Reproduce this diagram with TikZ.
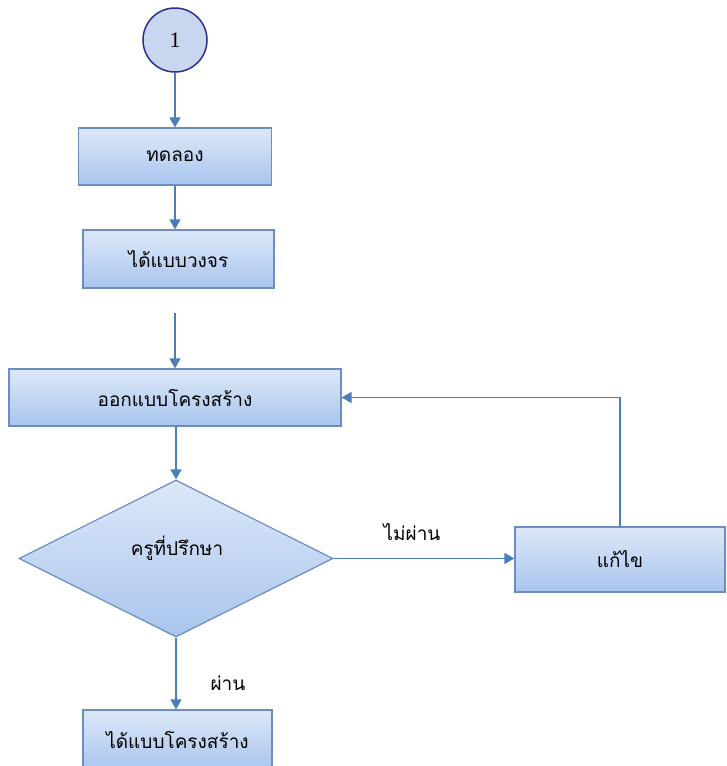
\documentclass[tikz,border=0pt]{standalone}
\usepackage{fontspec}
\setmainfont{Liberation Serif}
\newfontfamily\thai[Script=Thai]{Loma}
\usetikzlibrary{shapes.geometric,arrows.meta}
\definecolor{linec}{HTML}{4A7EBB}
\definecolor{boxborder}{HTML}{6A8EC0}
\definecolor{boxtop}{HTML}{DDE8F8}
\definecolor{boxbot}{HTML}{A9C5EE}
\definecolor{circfill}{HTML}{C9D6F0}
\definecolor{circborder}{HTML}{2A2F8F}
\tikzset{
  boxnode/.style={rectangle, draw=boxborder, line width=1.2pt, top color=boxtop, bottom color=boxbot, inner sep=0pt, font=\thai\fontsize{19}{22}\selectfont},
  decnode/.style={diamond, draw=boxborder, line width=1.2pt, top color=boxtop, bottom color=boxbot, inner sep=0pt, minimum width=314pt, minimum height=157pt},
  txt/.style={inner sep=0pt, font=\thai\fontsize{19}{22}\selectfont},
  conn/.style={draw=linec, line width=1.6pt, -{Triangle[length=10pt,width=11pt]}},
}
\begin{document}
\begin{tikzpicture}[x=1pt,y=-1pt]
\useasboundingbox (0,0) rectangle (726,766);
\node[circle, draw=circborder, line width=1.5pt, fill=circfill, minimum size=64pt, inner sep=0pt, font=\fontsize{22}{24}\selectfont] (c1) at (175,40) {1};
\node[boxnode, minimum width=193pt, minimum height=57pt] (b1) at (175,156.5) {ทดลอง};
\node[boxnode, minimum width=191pt, minimum height=58pt] (b2) at (178.5,259) {ได้แบบวงจร};
\node[boxnode, minimum width=332pt, minimum height=57pt] (b3) at (175,397.5) {ออกแบบโครงสร้าง};
\node[decnode] (d) at (176,558.5) {};
\node[txt] (dt) at (177,548) {ครูที่ปรึกษา};
\node[boxnode, minimum width=210pt, minimum height=65pt] (b4) at (620,559.5) {แก้ไข};
\node[boxnode, minimum width=189pt, minimum height=60pt] (b5) at (177.5,740) {ได้แบบโครงสร้าง};
\coordinate (gs) at (175,313);
\draw[conn] (c1.south) -- (b1.north);
\draw[conn] (b1.south) -- (b1.south |- b2.north);
\draw[conn] (gs) -- (gs |- b3.north);
\draw[conn] (b3.south -| d.north) -- (d.north);
\draw[conn] (d.east) -- (d.east -| b4.west);
\draw[conn] (b4.north) |- (b3.east);
\draw[conn] (d.south) -- (d.south |- b5.north);
\node[txt] (l1) at (412,532) {ไม่ผ่าน};
\node[txt] (l2) at (228,683) {ผ่าน};
\end{tikzpicture}
\end{document}
